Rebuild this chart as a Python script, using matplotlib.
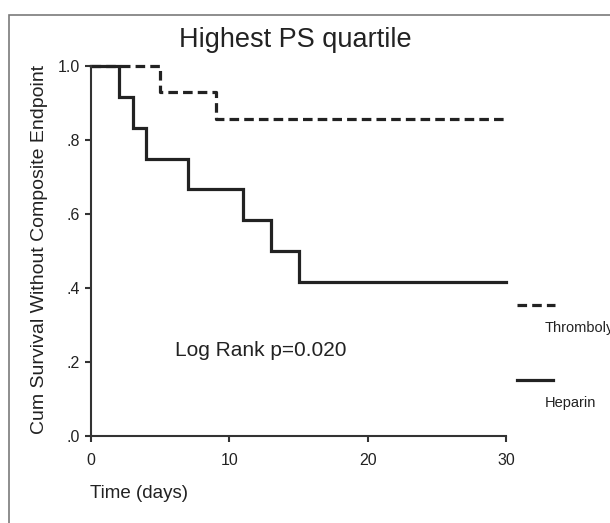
import matplotlib
matplotlib.use("Agg")
import matplotlib.pyplot as plt
from matplotlib.lines import Line2D
from matplotlib.patches import Rectangle

plt.rcParams['font.family'] = ['Liberation Sans', 'DejaVu Sans']

# Data (Kaplan-Meier step curves)
heparin_t = [0, 2, 3, 4, 7, 11, 13, 15, 30]
heparin_s = [1.0, 0.917, 0.833, 0.75, 0.667, 0.583, 0.5, 0.417, 0.417]
thromb_t = [0, 5, 9, 30]
thromb_s = [1.0, 0.929, 0.857, 0.857]

x_ticks = [0, 10, 20, 30]
y_ticks = [0.0, 0.2, 0.4, 0.6, 0.8, 1.0]
y_ticklabels = ['.0', '.2', '.4', '.6', '.8', '1.0']

title = 'Highest PS quartile'
xlabel = 'Time (days)'
ylabel = 'Cum Survival Without Composite Endpoint'
annotation = 'Log Rank p=0.020'
legend_labels = ['Thrombolysis', 'Heparin']

W, H = 610, 523
fig = plt.figure(figsize=(W / 100, H / 100), dpi=100)
fig.patch.set_facecolor('white')

# outer border
fig.patches.append(Rectangle((9 / W, -0.05), 1.2, (H - 15) / H + 0.05,
                             transform=fig.transFigure, fill=False,
                             edgecolor='#7a7a7a', linewidth=1.2))

ax = fig.add_axes([91 / W, (H - 436) / H, (506 - 91) / W, (436 - 66) / H])
ink = '#222222'

ax.step(heparin_t, heparin_s, where='post', color=ink, lw=2.3, clip_on=False,
        solid_joinstyle='miter')
ax.step(thromb_t, thromb_s, where='post', color=ink, lw=2.3, clip_on=False,
        dashes=(3.0, 1.6))

ax.set_xlim(0, 30)
ax.set_ylim(0, 1.0)
ax.set_xticks(x_ticks)
ax.set_xticklabels([str(v) for v in x_ticks])
ax.set_yticks(y_ticks)
ax.set_yticklabels(y_ticklabels)

for s in ['top', 'right']:
    ax.spines[s].set_visible(False)
for s in ['left', 'bottom']:
    ax.spines[s].set_color('#333333')
    ax.spines[s].set_linewidth(1.5)
ax.tick_params(axis='both', direction='out', length=4, width=1.5, color='#333333',
               labelsize=11.5, labelcolor=ink)
ax.tick_params(axis='x', pad=8)
ax.tick_params(axis='y', pad=4)

fig.text(295 / W, 1 - 40 / H, title, ha='center', va='center', fontsize=19.5, color=ink)
fig.text(90 / W, 1 - 494 / H, xlabel, ha='left', va='center', fontsize=13.5, color=ink)
fig.text(40 / W, 1 - 249 / H, ylabel, ha='center', va='center', rotation=90,
         fontsize=14, color=ink)
ax.text(261 / W, 1 - 350 / H, annotation, transform=fig.transFigure,
        ha='center', va='center', fontsize=15, color=ink)

# legend
fig.lines.append(Line2D([517 / W, 555 / W], [1 - 305 / H, 1 - 305 / H],
                        transform=fig.transFigure, color=ink, lw=2.3,
                        dashes=(3.0, 1.6)))
fig.lines.append(Line2D([517 / W, 553 / W], [1 - 380 / H, 1 - 380 / H],
                        transform=fig.transFigure, color=ink, lw=2.3))
fig.text(545 / W, 1 - 328 / H, legend_labels[0], ha='left', va='center',
         fontsize=10.5, color=ink)
fig.text(545 / W, 1 - 403 / H, legend_labels[1], ha='left', va='center',
         fontsize=10.5, color=ink)

fig.savefig('out.png', dpi=100, facecolor='white')
